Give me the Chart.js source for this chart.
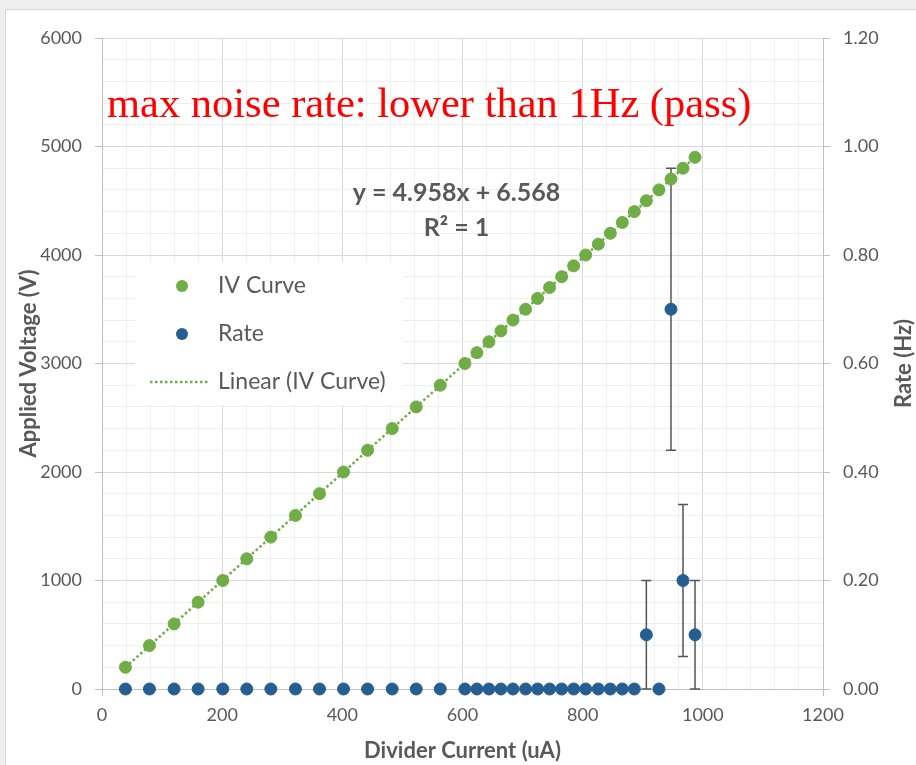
<!DOCTYPE html>
<html>
<head>
<meta charset="utf-8">
<title>IV Curve / Rate</title>
<script src="https://cdn.jsdelivr.net/npm/chart.js@4.4.1/dist/chart.umd.min.js"></script>
<style>
  html, body { margin: 0; padding: 0; background: #efefef; }
  canvas { display: block; }
</style>
</head>
<body>
<canvas id="chart" width="916" height="765"></canvas>
<script>
// Divider current (uA) for each voltage step
const CURRENT_UA = [39, 79, 120, 160, 201, 241, 281, 322, 362, 402, 442, 483, 523, 563,
    604, 624, 644, 664, 684, 705, 725, 745, 765, 785, 805, 826, 846, 866, 886, 906, 927, 947, 967, 987];

// Applied voltage (V)
const VOLTAGE_V = [200, 400, 600, 800, 1000, 1200, 1400, 1600, 1800, 2000, 2200, 2400, 2600, 2800,
    3000, 3100, 3200, 3300, 3400, 3500, 3600, 3700, 3800, 3900, 4000, 4100, 4200, 4300, 4400, 4500, 4600, 4700, 4800, 4900];

// Noise rate (Hz) and its error
const RATE_HZ = [0, 0, 0, 0, 0, 0, 0, 0, 0, 0, 0, 0, 0, 0,
    0, 0, 0, 0, 0, 0, 0, 0, 0, 0, 0, 0, 0, 0, 0, 0.1, 0, 0.7, 0.2, 0.1];
const RATE_ERR = [0, 0, 0, 0, 0, 0, 0, 0, 0, 0, 0, 0, 0, 0,
    0, 0, 0, 0, 0, 0, 0, 0, 0, 0, 0, 0, 0, 0, 0, 0.1, 0, 0.26, 0.14, 0.1];

// Linear fit of the IV curve
const FIT_SLOPE = 4.958;
const FIT_INTERCEPT = 6.568;
const FIT_R2 = 1;

// Labelled ticks
const X_TICKS = [0, 200, 400, 600, 800, 1000, 1200];
const Y_TICKS = [0, 1000, 2000, 3000, 4000, 5000, 6000];
const Y1_TICKS = [0, 0.2, 0.4, 0.6, 0.8, 1.0, 1.2];

const GREEN = '#70ad47';
const BLUE = '#255e91';
const TEXT = '#595959';
const AXIS = '#bfbfbf';
const FONT = 'Lato, "Open Sans", sans-serif';

const isMajor = (list, v) => list.some(t => Math.abs(t - v) < 1e-6);
const gridColor = list => ctx => (ctx.tick && isMajor(list, ctx.tick.value)) ? '#d9d9d9' : '#efefef';

// Fondo gris con el panel blanco del gráfico
const panelPlugin = {
    id: 'panel',
    beforeDraw(chart) {
        const { ctx, width, height } = chart;
        ctx.save();
        ctx.fillStyle = '#efefef';
        ctx.fillRect(0, 0, width, height);
        ctx.fillStyle = '#ffffff';
        ctx.fillRect(6, 10, width - 6, height - 10);
        ctx.strokeStyle = '#d4d4d4';
        ctx.lineWidth = 1;
        ctx.beginPath();
        ctx.moveTo(5.5, height);
        ctx.lineTo(5.5, 9.5);
        ctx.lineTo(width, 9.5);
        ctx.stroke();
        ctx.restore();
    }
};

// Barras de error del rate + leyenda interna
const errorBarsPlugin = {
    id: 'errorBars',
    beforeDatasetsDraw(chart) {
        const { ctx, scales, chartArea } = chart;
        ctx.save();

        // leyenda (caja blanca tapando la grilla)
        const lx = chartArea.left + 33, ly = chartArea.top + 224;
        ctx.fillStyle = '#ffffff';
        ctx.fillRect(lx, ly, 268, 143);
        ctx.font = '23px ' + FONT;
        ctx.textBaseline = 'middle';
        ctx.textAlign = 'left';
        const items = [
            { label: 'IV Curve', type: 'dot', color: GREEN },
            { label: 'Rate', type: 'dot', color: BLUE },
            { label: 'Linear (IV Curve)', type: 'line', color: GREEN }
        ];
        items.forEach((it, i) => {
            const cy = ly + 24 + i * 48;
            if (it.type === 'dot') {
                ctx.beginPath();
                ctx.arc(lx + 47, cy, 6, 0, Math.PI * 2);
                ctx.fillStyle = it.color;
                ctx.fill();
            } else {
                ctx.beginPath();
                ctx.setLineDash([2.5, 2.5]);
                ctx.lineWidth = 2.5;
                ctx.strokeStyle = it.color;
                ctx.moveTo(lx + 15, cy);
                ctx.lineTo(lx + 75, cy);
                ctx.stroke();
                ctx.setLineDash([]);
            }
            ctx.fillStyle = TEXT;
            ctx.fillText(it.label, lx + 83, cy);
        });

        // barras de error
        const x = scales.x, y = scales.y1;
        ctx.strokeStyle = '#555555';
        ctx.lineWidth = 1.5;
        RATE_HZ.forEach((r, i) => {
            const e = RATE_ERR[i];
            if (!e) return;
            const px = x.getPixelForValue(CURRENT_UA[i]);
            const top = y.getPixelForValue(r + e);
            const bot = y.getPixelForValue(r - e);
            ctx.beginPath();
            ctx.moveTo(px, top);
            ctx.lineTo(px, bot);
            ctx.moveTo(px - 5, top);
            ctx.lineTo(px + 5, top);
            ctx.moveTo(px - 5, bot);
            ctx.lineTo(px + 5, bot);
            ctx.stroke();
        });
        ctx.restore();
    }
};

// Textos: nota en rojo, ecuación del ajuste y título del eje derecho
const notesPlugin = {
    id: 'notes',
    afterDatasetsDraw(chart) {
        const { ctx, scales, chartArea } = chart;
        ctx.save();
        ctx.fillStyle = '#ff0000';
        ctx.font = '42.5px "Liberation Serif", "Times New Roman", serif';
        ctx.textAlign = 'left';
        ctx.textBaseline = 'alphabetic';
        ctx.fillText('max noise rate: lower than 1Hz (pass)', chartArea.left + 5, chartArea.top + 79);

        const ex = scales.x.getPixelForValue(590);
        ctx.fillStyle = TEXT;
        ctx.font = 'bold 25px ' + FONT;
        ctx.textAlign = 'center';
        ctx.textBaseline = 'middle';
        ctx.fillText('y = ' + FIT_SLOPE + 'x + ' + FIT_INTERCEPT, ex, scales.y.getPixelForValue(4570));
        ctx.fillText('R\u00b2 = ' + FIT_R2, ex, scales.y.getPixelForValue(4250));

        // título eje derecho (leído de abajo hacia arriba)
        ctx.font = 'bold 22px ' + FONT;
        ctx.translate(chart.width - 12, (chartArea.top + chartArea.bottom) / 2);
        ctx.rotate(-Math.PI / 2);
        ctx.fillText('Rate (Hz)', 0, 0);
        ctx.restore();
    }
};

const fitLine = [CURRENT_UA[0], CURRENT_UA[CURRENT_UA.length - 1]]
    .map(x => ({ x, y: FIT_SLOPE * x + FIT_INTERCEPT }));

new Chart(document.getElementById('chart'), {
    type: 'scatter',
    data: {
        datasets: [
            {
                label: 'Rate',
                data: CURRENT_UA.map((x, i) => ({ x, y: RATE_HZ[i] })),
                yAxisID: 'y1',
                backgroundColor: BLUE,
                borderColor: BLUE,
                pointRadius: 6,
                clip: false
            },
            {
                label: 'IV Curve',
                data: CURRENT_UA.map((x, i) => ({ x, y: VOLTAGE_V[i] })),
                yAxisID: 'y',
                backgroundColor: GREEN,
                borderColor: GREEN,
                pointRadius: 6,
                clip: false
            },
            {
                label: 'Linear (IV Curve)',
                data: fitLine,
                yAxisID: 'y',
                showLine: true,
                borderColor: GREEN,
                borderWidth: 2.5,
                borderDash: [2.5, 2.5],
                pointRadius: 0
            }
        ]
    },
    plugins: [panelPlugin, errorBarsPlugin, notesPlugin],
    options: {
        responsive: false,
        animation: false,
        layout: { padding: { top: 38, left: 0, right: 0, bottom: 0 } },
        plugins: {
            legend: { display: false },
            tooltip: { enabled: false }
        },
        scales: {
            x: {
                type: 'linear',
                min: 0,
                max: 1200,
                ticks: {
                    stepSize: 40,
                    autoSkip: false,
                    maxRotation: 0,
                    padding: 8,
                    color: TEXT,
                    font: { family: FONT, size: 18 },
                    callback: v => isMajor(X_TICKS, v) ? String(v) : ''
                },
                grid: {
                    color: gridColor(X_TICKS),
                    tickLength: 7,
                    tickColor: ctx => (ctx.tick && (ctx.tick.value === 0 || ctx.tick.value === 1200)) ? AXIS : 'rgba(0,0,0,0)'
                },
                border: { color: AXIS },
                title: {
                    display: true,
                    text: 'Divider Current (uA)',
                    color: TEXT,
                    font: { family: FONT, size: 22, weight: 'bold' },
                    padding: { top: 0, bottom: 1 }
                },
                afterFit: s => { s.height = 76; }
            },
            y: {
                position: 'left',
                min: 0,
                max: 6000,
                ticks: {
                    stepSize: 200,
                    autoSkip: false,
                    padding: 13,
                    color: TEXT,
                    font: { family: FONT, size: 18 },
                    callback: v => isMajor(Y_TICKS, v) ? String(v) : ''
                },
                grid: {
                    color: gridColor(Y_TICKS),
                    tickLength: 7,
                    tickColor: ctx => (ctx.tick && isMajor(Y_TICKS, ctx.tick.value)) ? AXIS : 'rgba(0,0,0,0)'
                },
                border: { color: AXIS },
                title: {
                    display: true,
                    text: 'Applied Voltage (V)',
                    color: TEXT,
                    font: { family: FONT, size: 22, weight: 'bold' },
                    padding: { top: 16, bottom: 0 }
                },
                afterFit: s => { s.width = 102; }
            },
            y1: {
                position: 'right',
                min: 0,
                max: 1.2,
                ticks: {
                    stepSize: 0.2,
                    autoSkip: false,
                    padding: 13,
                    color: TEXT,
                    font: { family: FONT, size: 18 },
                    callback: v => isMajor(Y1_TICKS, v) ? v.toFixed(2) : ''
                },
                grid: { drawOnChartArea: false, tickLength: 7, tickColor: AXIS },
                border: { color: AXIS },
                afterFit: s => { s.width = 93; }
            }
        }
    }
});
</script>
</body>
</html>
